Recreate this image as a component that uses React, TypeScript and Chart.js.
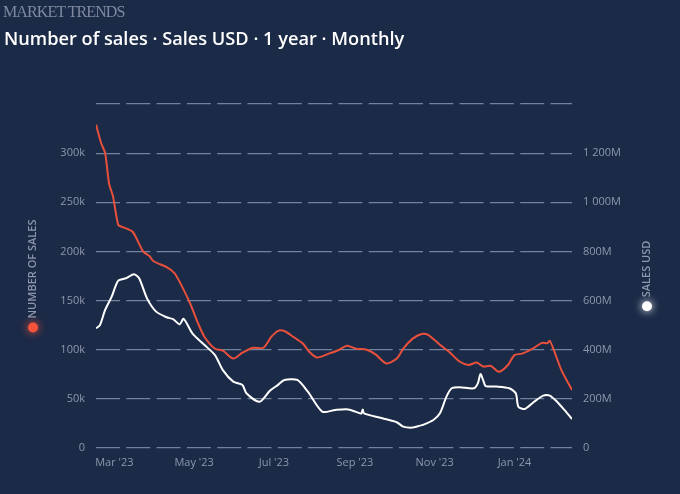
import React, { useEffect, useRef } from 'react';
import { Chart, Plugin, registerables } from 'chart.js';

Chart.register(...registerables);

const START_DATE = '2023-02-15';
const END_DATE = '2024-02-14';

// Number of sales (thousands), left axis
const salesDates = [
  '2023-02-15', '2023-02-19', '2023-02-22', '2023-02-25', '2023-02-28', '2023-03-04', '2023-03-07',
  '2023-03-15', '2023-03-23', '2023-03-28', '2023-03-31', '2023-04-10', '2023-04-16', '2023-04-20',
  '2023-04-28', '2023-05-04', '2023-05-09', '2023-05-17', '2023-05-23', '2023-05-31', '2023-06-07',
  '2023-06-15', '2023-06-23', '2023-06-29', '2023-07-04', '2023-07-09', '2023-07-16', '2023-07-23',
  '2023-07-28', '2023-08-03', '2023-08-12', '2023-08-20', '2023-08-26', '2023-09-02', '2023-09-10',
  '2023-09-17', '2023-09-25', '2023-10-03', '2023-10-08', '2023-10-15', '2023-10-22', '2023-10-27',
  '2023-11-05', '2023-11-12', '2023-11-20', '2023-11-27', '2023-12-03', '2023-12-08', '2023-12-14',
  '2023-12-20', '2023-12-27', '2024-01-01', '2024-01-07', '2024-01-15', '2024-01-22', '2024-01-26',
  '2024-01-28', '2024-01-31', '2024-02-06', '2024-02-14',
];
const numberOfSales = [
  329, 310, 300, 269, 256, 227, 225,
  220, 200, 195, 190, 184, 178, 169,
  147, 127, 113, 101, 99, 91, 97,
  102, 102, 113, 119, 119, 113, 106.5,
  98, 92, 96, 100, 104, 101, 100,
  95, 86, 91, 101, 111, 116, 115,
  105, 98, 88, 84.5, 87, 83, 83.5,
  77.5, 84.5, 94.5, 96, 101, 107, 106.5,
  109, 100, 79, 59,
];

// Sales USD (millions), right axis
const usdDates = [
  '2023-02-15', '2023-02-18', '2023-02-22', '2023-02-27', '2023-03-04', '2023-03-10', '2023-03-16',
  '2023-03-20', '2023-03-26', '2023-04-02', '2023-04-10', '2023-04-15', '2023-04-20', '2023-04-23',
  '2023-04-30', '2023-05-09', '2023-05-17', '2023-05-23', '2023-05-31', '2023-06-07', '2023-06-10',
  '2023-06-20', '2023-06-28', '2023-07-04', '2023-07-09', '2023-07-19', '2023-07-27', '2023-08-07',
  '2023-08-17', '2023-08-27', '2023-09-05', '2023-09-06', '2023-09-07', '2023-09-08', '2023-09-22',
  '2023-10-03', '2023-10-08', '2023-10-15', '2023-10-20', '2023-10-23', '2023-10-31', '2023-11-05',
  '2023-11-10', '2023-11-14', '2023-11-20', '2023-12-01', '2023-12-04', '2023-12-06', '2023-12-08',
  '2023-12-10', '2023-12-18', '2023-12-28', '2024-01-02', '2024-01-04', '2024-01-09', '2024-01-16',
  '2024-01-23', '2024-01-28', '2024-02-02', '2024-02-07', '2024-02-14',
];
const salesUsd = [
  487, 500, 562, 616, 681, 691, 707,
  691, 609, 555, 532, 524, 503, 526,
  464, 419, 378, 317, 270, 256, 223,
  188, 233, 256, 277, 277, 229, 148,
  155, 157, 141, 141, 157, 141, 121,
  105, 87, 83, 90, 94, 114, 141,
  209, 243, 247, 243, 263, 301, 277,
  252, 250, 243, 223, 168, 159, 188,
  213, 213, 191, 162, 118,
];

const tickDates = ['2023-03-01', '2023-05-01', '2023-07-01', '2023-09-01', '2023-11-01', '2024-01-01'];
const tickLabels = ["Mar '23", "May '23", "Jul '23", "Sep '23", "Nov '23", "Jan '24"];

const dayOf = (d: string) => (Date.parse(d) - Date.parse(START_DATE)) / 86400000;

const TICK_COLOR = '#8e98ac';
const GRID_COLOR = 'rgba(145, 160, 186, 0.75)';
const TICK_FONT = { family: '"Open Sans", sans-serif', size: 11 };

const formatUsd = (v: number) => {
  if (v === 0) return '0';
  if (v >= 1000) return `${Math.floor(v / 1000)} ${String(v % 1000).padStart(3, '0')}M`;
  return `${v}M`;
};

// rotated axis titles with a glowing dot under them
const axisTitles: Plugin = {
  id: 'axisTitles',
  afterDraw(chart) {
    const { ctx, chartArea } = chart;
    const cy = (chartArea.top + chartArea.bottom) / 2;
    const draw = (x: number, text: string, dot: string) => {
      ctx.save();
      ctx.font = '600 11px "Open Sans", sans-serif';
      const w = ctx.measureText(text).width;
      const r = 5;
      const gap = 4;
      const bottom = cy + (w + gap + 2 * r) / 2;
      ctx.shadowColor = dot;
      ctx.shadowBlur = 8;
      ctx.fillStyle = dot;
      ctx.beginPath();
      ctx.arc(x, bottom - r, r, 0, Math.PI * 2);
      ctx.fill();
      ctx.shadowBlur = 0;
      ctx.translate(x, bottom - 2 * r - gap);
      ctx.rotate(-Math.PI / 2);
      ctx.textAlign = 'left';
      ctx.textBaseline = 'middle';
      ctx.fillStyle = TICK_COLOR;
      ctx.fillText(text, 0, 0);
      ctx.restore();
    };
    draw(33, 'NUMBER OF SALES', '#f4533c');
    draw(647, 'SALES USD', '#ffffff');
  },
};

const SalesChart: React.FC = () => {
  const canvasRef = useRef<HTMLCanvasElement>(null);
  const chartRef = useRef<Chart | null>(null);

  useEffect(() => {
    if (!canvasRef.current) return;
    const ctx = canvasRef.current.getContext('2d');
    if (!ctx) return;

    chartRef.current = new Chart(ctx, {
      type: 'line',
      data: {
        datasets: [
          {
            label: 'Number of sales',
            data: salesDates.map((d, i) => ({ x: dayOf(d), y: numberOfSales[i] })),
            borderColor: '#e8503c',
            borderWidth: 2,
            pointRadius: 0,
            tension: 0.25,
            yAxisID: 'y',
          },
          {
            label: 'Sales USD',
            data: usdDates.map((d, i) => ({ x: dayOf(d), y: salesUsd[i] })),
            borderColor: '#ffffff',
            borderWidth: 2,
            pointRadius: 0,
            tension: 0.25,
            yAxisID: 'y1',
          },
        ],
      },
      options: {
        animation: false,
        responsive: true,
        maintainAspectRatio: false,
        layout: { padding: { top: 104, left: 0, right: 0, bottom: 0 } },
        plugins: { legend: { display: false }, tooltip: { enabled: false } },
        scales: {
          x: {
            type: 'linear',
            min: 0,
            max: dayOf(END_DATE),
            grid: { display: false, drawTicks: false },
            border: { display: false },
            afterBuildTicks: (scale) => {
              scale.ticks = tickDates.map((d) => ({ value: dayOf(d) }));
            },
            afterFit: (scale) => {
              scale.height = 46;
            },
            ticks: {
              autoSkip: false,
              maxRotation: 0,
              padding: 8,
              color: TICK_COLOR,
              font: TICK_FONT,
              callback: (v) => tickLabels[tickDates.findIndex((d) => dayOf(d) === v)] ?? '',
            },
          },
          y: {
            position: 'left',
            min: 0,
            max: 350,
            grid: { color: GRID_COLOR, lineWidth: 1.2, drawTicks: false },
            border: { display: false, dash: [24, 6.3] },
            afterFit: (scale) => {
              scale.width = 96;
            },
            ticks: {
              stepSize: 50,
              padding: 11,
              color: TICK_COLOR,
              font: TICK_FONT,
              callback: (v) => (v === 350 ? '' : v === 0 ? '0' : `${v}k`),
            },
          },
          y1: {
            position: 'right',
            min: 0,
            max: 1400,
            grid: { display: false, drawTicks: false },
            border: { display: false },
            afterFit: (scale) => {
              scale.width = 108;
            },
            ticks: {
              stepSize: 200,
              padding: 11,
              color: TICK_COLOR,
              font: TICK_FONT,
              callback: (v) => (v === 1400 ? '' : formatUsd(Number(v))),
            },
          },
        },
      },
      plugins: [axisTitles],
    });

    return () => {
      chartRef.current?.destroy();
      chartRef.current = null;
    };
  }, []);

  return <canvas ref={canvasRef} />;
};

export default function App() {
  return (
    <div
      style={{
        position: 'fixed',
        left: 0,
        top: 0,
        width: 680,
        height: 494,
        background: '#1b2a47',
        overflow: 'hidden',
      }}
    >
      <div style={{ position: 'absolute', inset: 0 }}>
        <SalesChart />
      </div>
      <div
        style={{
          position: 'absolute',
          left: 3,
          top: 2,
          fontFamily: '"Liberation Serif", serif',
          fontSize: 16,
          letterSpacing: -0.9,
          color: '#7f8aa0',
          lineHeight: '20px',
        }}
      >
        MARKET TRENDS
      </div>
      <div
        style={{
          position: 'absolute',
          left: 4,
          top: 25,
          fontFamily: '"Open Sans", sans-serif',
          fontWeight: 600,
          fontSize: 18.2,
          color: '#ffffff',
          lineHeight: '26px',
        }}
      >
        Number of sales · Sales USD · 1 year · Monthly
      </div>
    </div>
  );
}
